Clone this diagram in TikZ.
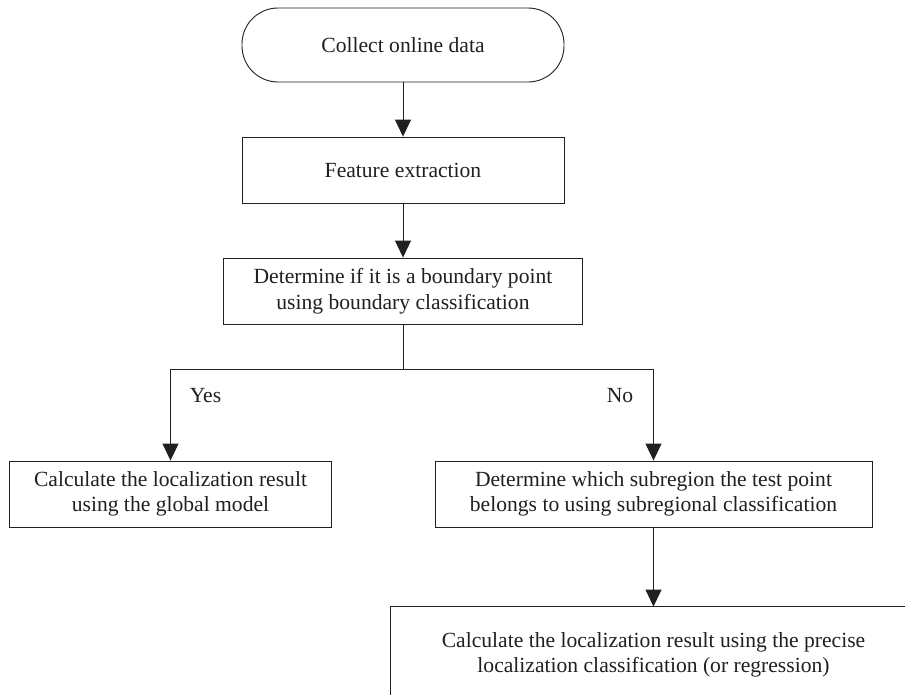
\documentclass[tikz,border=0pt]{standalone}
\usepackage{fontspec}
\setmainfont{Liberation Serif}
\usetikzlibrary{arrows.meta}
\definecolor{ink}{HTML}{231F20}
\tikzset{
  box/.style={draw=ink, line width=0.9pt, rectangle, inner sep=0pt, align=center,
    font=\fontsize{21.6}{25.5}\selectfont, text=ink},
  term/.style={box, rounded corners=36pt},
  arr/.style={draw=ink, line width=0.9pt, -{Triangle[length=17pt,width=16pt]}},
  conn/.style={draw=ink, line width=0.9pt},
  lbl/.style={font=\fontsize{21.6}{25.5}\selectfont, text=ink, inner sep=0pt}
}
\begin{document}
\begin{tikzpicture}[x=1pt,y=-1pt]
\useasboundingbox (0,0) rectangle (905,694);
\clip (0,0) rectangle (905,694);
\fill[white] (0,0) rectangle (905,694);
\node[term, minimum width=322pt, minimum height=74pt] (start) at (403,45) {Collect online data};
\node[box, minimum width=322pt, minimum height=66pt] (feature) at (403,170) {Feature extraction};
\node[box, minimum width=359pt, minimum height=66pt] (boundary) at (403,291) {Determine if it is a boundary point\\using boundary classification};
\node[box, minimum width=322pt, minimum height=66pt] (global) at (170.5,494) {Calculate the localization result\\using the global model};
\node[box, minimum width=437pt, minimum height=66pt] (subregion) at (653.5,494) {Determine which subregion the test point\\belongs to using subregional classification};
\node[box, draw=none, minimum width=526pt, minimum height=96pt] (precise) at (653.5,655) {Calculate the localization result using the precise\\localization classification (or regression)};
\draw[conn] ([yshift=-30pt]precise.south west) -- (precise.north west) -- ([xshift=40pt]precise.north east);
\coordinate (split) at (403,369);
\draw[arr] (start) -- (feature);
\draw[arr] (feature) -- (boundary);
\draw[conn] (boundary.south) -- (split);
\draw[arr] (split) -| (global.north);
\draw[arr] (split) -| (subregion.north);
\draw[arr] (subregion) -- (precise);
\node[lbl] (yes) at (205.5,396) {Yes};
\node[lbl] (no) at (620,396) {No};
\end{tikzpicture}
\end{document}
